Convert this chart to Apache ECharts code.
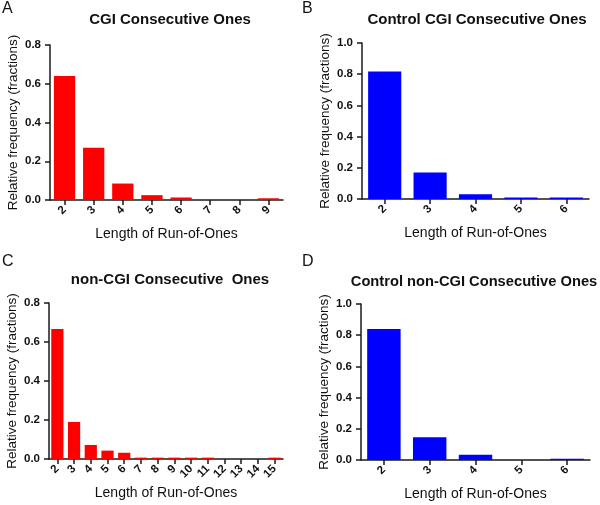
<!DOCTYPE html>
<html><head><meta charset="utf-8">
<script src="https://cdn.jsdelivr.net/npm/echarts@6/dist/echarts.min.js"></script>
<style>html,body{margin:0;padding:0;background:#fff}#c{width:600px;height:505px}</style>
</head><body><div id="c"></div>
<script>
const titles = ['CGI Consecutive Ones', 'Control CGI Consecutive Ones', 'non-CGI Consecutive  Ones', 'Control non-CGI Consecutive Ones'];
const panelLetters = ['A', 'B', 'C', 'D'];
const catsA = ['2','3','4','5','6','7','8','9'];
const valsA = [0.64, 0.27, 0.085, 0.025, 0.013, 0, 0, 0.009];
const catsB = ['2','3','4','5','6'];
const valsB = [0.818, 0.17, 0.03, 0.01, 0.01];
const catsC = ['2','3','4','5','6','7','8','9','10','11','12','13','14','15'];
const valsC = [0.667, 0.19, 0.072, 0.043, 0.032, 0.007, 0.007, 0.007, 0.007, 0.007, 0, 0, 0, 0.007];
const catsD = ['2','3','4','5','6'];
const valsD = [0.839, 0.146, 0.034, 0, 0.008];
const yMaxes = [0.8, 1.0, 0.8, 1.0];
const xAxisName = 'Length of Run-of-Ones';
const yAxisName = 'Relative frequency (fractions)';

const FONT = '"Liberation Sans", Arial, sans-serif';
const cats = [catsA, catsB, catsC, catsD];
const vals = [valsA, valsB, valsC, valsD];
const colors = ['#ff0000', '#0000ff', '#ff0000', '#0000ff'];
const grids = [
  {left: 50, top: 45, width: 233, height: 155},
  {left: 362, top: 43, width: 227, height: 156},
  {left: 49, top: 303, width: 234, height: 156},
  {left: 361, top: 304, width: 229, height: 156}
];
const titlePos = [[165, 7], [472, 7], [165, 267], [469, 269]];
const titleSizes = [15, 15, 15, 14.7];
const letterPos = [[2, 1], [302, 1], [2, 254], [302, 254]];
const axisLine = {show: true, lineStyle: {color: '#1a1a1a', width: 1.5}};

const option = {
  animation: false,
  backgroundColor: '#fff',
  title: titles.map((t, i) => ({
    text: t, left: titlePos[i][0], top: titlePos[i][1], textAlign: 'center',
    textStyle: {fontFamily: FONT, fontWeight: 'bold', fontSize: titleSizes[i], color: '#111'}
  })),
  graphic: panelLetters.map((l, i) => ({
    type: 'text', left: letterPos[i][0], top: letterPos[i][1],
    style: {text: l, font: '16px ' + FONT, fill: '#111'}
  })),
  grid: grids,
  xAxis: cats.map((c, i) => ({
    type: 'category', gridIndex: i, data: c,
    name: xAxisName, nameLocation: 'middle', nameGap: 27,
    nameTextStyle: {fontFamily: FONT, fontSize: 14, color: '#111'},
    axisLine: axisLine,
    axisTick: {show: true, alignWithLabel: true, length: 5, lineStyle: {color: '#1a1a1a', width: 1.5}},
    axisLabel: {rotate: 45, fontFamily: FONT, fontWeight: 'bold', fontSize: 11.5, color: '#111', margin: 8, interval: 0},
    splitLine: {show: false}
  })),
  yAxis: yMaxes.map((m, i) => ({
    type: 'value', gridIndex: i, min: 0, max: m, interval: 0.2,
    name: yAxisName, nameLocation: 'middle', nameGap: 30,
    nameTextStyle: {fontFamily: FONT, fontSize: 13.5, color: '#111'},
    axisLine: axisLine,
    axisTick: {show: true, length: 5, lineStyle: {color: '#1a1a1a', width: 1.5}},
    axisLabel: {fontFamily: FONT, fontWeight: 'bold', fontSize: 11.5, color: '#111', margin: 9,
      formatter: v => v.toFixed(1)},
    splitLine: {show: false}
  })),
  series: vals.map((v, i) => ({
    type: 'bar', xAxisIndex: i, yAxisIndex: i, data: v,
    barCategoryGap: '27%',
    itemStyle: {color: colors[i]}
  }))
};
echarts.init(document.getElementById('c'), null, {renderer: 'canvas'}).setOption(option);
</script></body></html>
